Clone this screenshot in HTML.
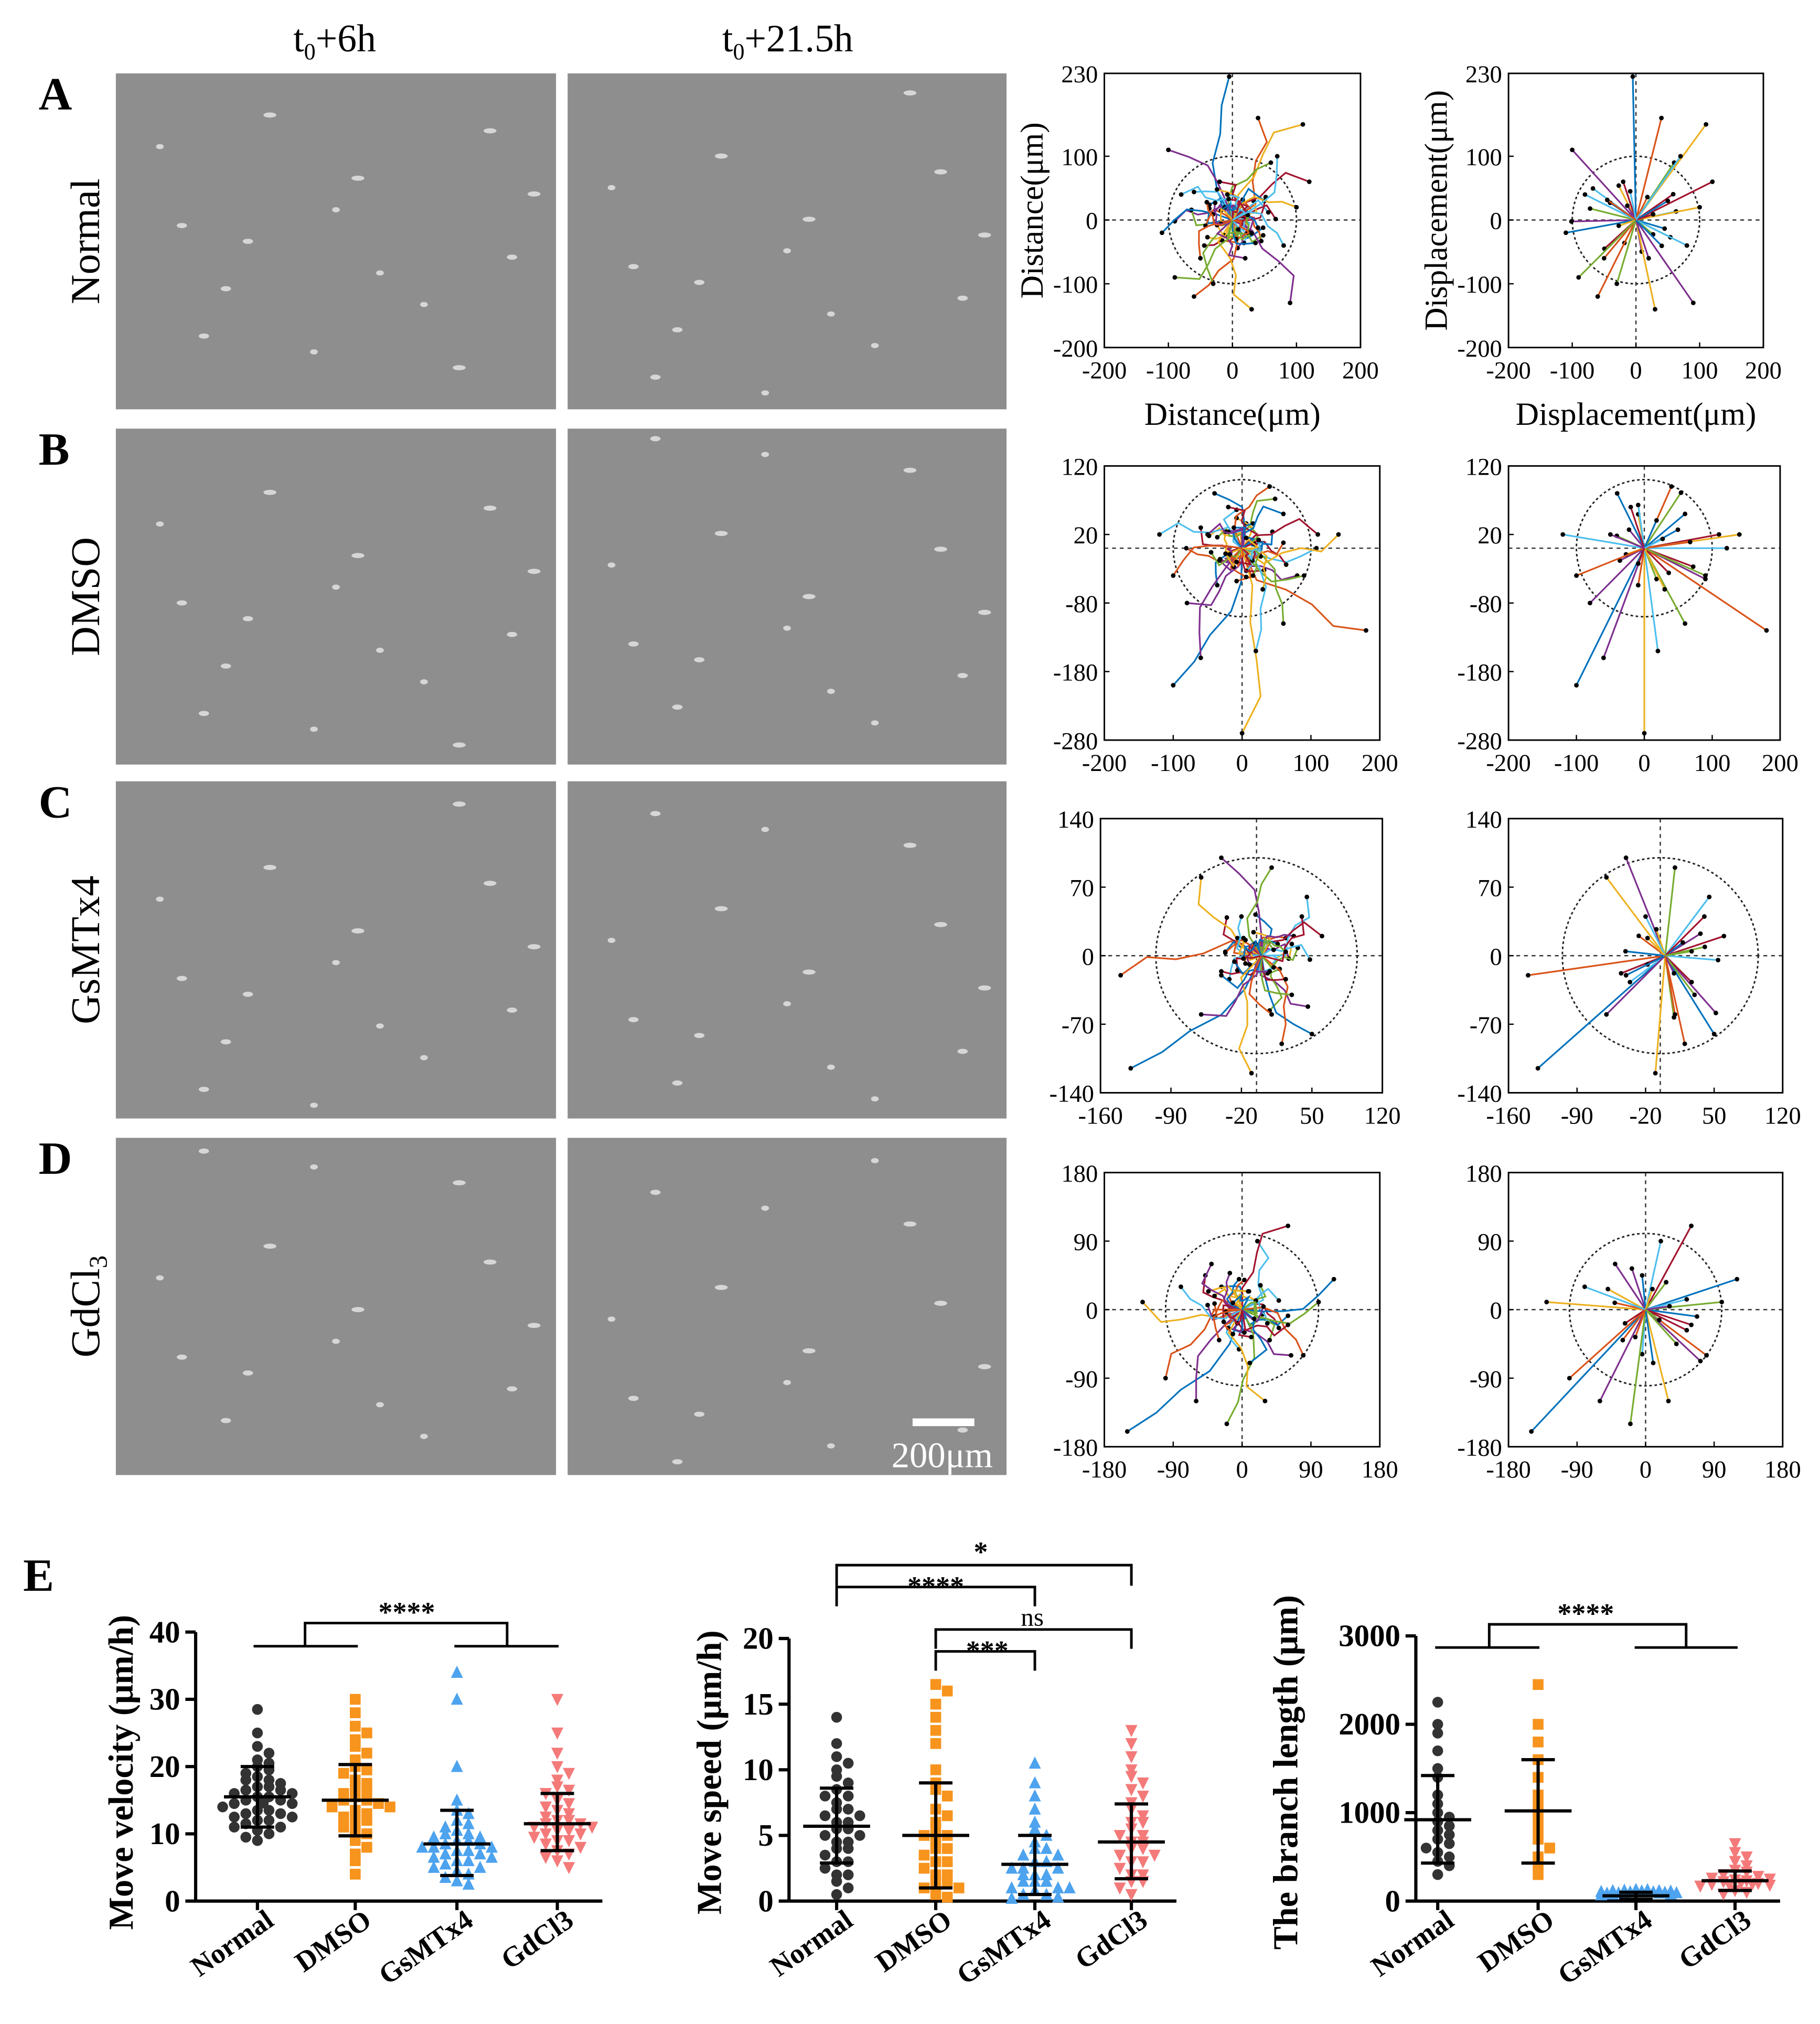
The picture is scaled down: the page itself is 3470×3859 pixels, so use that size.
<!DOCTYPE html>
<html><head><meta charset="utf-8"><style>body{margin:0;background:#fff}svg{display:block}</style></head>
<body>
<svg id="fig" width="3470" height="3859" viewBox="0 0 1414 1572.5" xmlns="http://www.w3.org/2000/svg" font-family="'Liberation Serif', serif">
<rect width="1414" height="1573" fill="#fff"/>
<g id="micro">
<text x="260" y="40" font-size="30" text-anchor="middle">t<tspan font-size="18" dy="6">0</tspan><tspan dy="-6">+6h</tspan></text>
<text x="612" y="40" font-size="30" text-anchor="middle">t<tspan font-size="18" dy="6">0</tspan><tspan dy="-6">+21.5h</tspan></text>
</g>
<g id="traj"></g>
<g id="charts"></g>
</svg>
<script>
const NS="http://www.w3.org/2000/svg";
function mk(p,tag,at,txt){const e=document.createElementNS(NS,tag);for(const k in at)e.setAttribute(k,at[k]);if(txt!==undefined)e.textContent=txt;p.appendChild(e);return e;}
const micro=document.getElementById('micro'),traj=document.getElementById('traj'),charts=document.getElementById('charts');
const rowsY=[[57,318],[333,594],[607,869],[884,1146]];
const rowNames=['Normal','DMSO','GsMTx4','GdCl'];
const letters=['A','B','C','D'];
const cellMarks=[[0.1,0.2],[0.3,0.5],[0.55,0.3],[0.7,0.7],[0.2,0.8],[0.85,0.15],[0.45,0.85],[0.9,0.55],[0.35,0.1],[0.6,0.6],[0.15,0.45],[0.78,0.9],[0.5,0.4],[0.25,0.65],[0.95,0.35]];
rowsY.forEach((r,i)=>{
 const l=mk(micro,'text',{x:30,y:r[0]+28,'font-size':36,'font-weight':'bold'},letters[i]);
 
 const t=mk(micro,'text',{transform:`translate(77,${(r[0]+r[1])/2}) rotate(-90)`,'font-size':32,'text-anchor':'middle'},rowNames[i]);
 if(i==3){mk(t,'tspan',{'font-size':20,dy:6},'3');}
 
 [[90,432],[441,782]].forEach((c,j)=>{
  const im=mk(micro,'rect',{x:c[0],y:r[0],width:c[1]-c[0],height:r[1]-r[0],fill:'#8e8e8e'});
  
  cellMarks.forEach((m,q)=>{const x=c[0]+m[0]*(c[1]-c[0]),y=r[0]+0.03*(r[1]-r[0])+((m[1]+0.13*j+0.07*i)%1)*0.94*(r[1]-r[0]);
   mk(micro,'ellipse',{cx:x,cy:y,rx:3+(q%3),ry:2,fill:'#e8e8e8',opacity:0.8});});
 });
});
const sb=mk(micro,'rect',{x:709,y:1102,width:48,height:6,fill:'#fff'});
const sbt=mk(micro,'text',{x:732,y:1140,'font-size':28,fill:'#fff','text-anchor':'middle'},'200μm');

const trajColors=['#0072BD','#D95319','#EDB120','#7E2F8E','#77AC30','#4DBEEE','#A2142F'];
const endA=[[-5,225],[40,160],[110,150],[-100,110],[60,90],[-80,40],[120,60],[-110,-20],[-60,-120],[30,-140],[90,-130],[-30,-100],[80,-40],[-20,60],[50,30],[-50,-60],[100,20],[20,-60],[-90,-90],[70,100]];
const endB=[[-100,-200],[180,-120],[0,-270],[-60,-160],[60,-110],[-120,20],[110,20],[-40,80],[40,90],[140,20],[-80,-80],[90,-40],[20,-150],[-20,60],[60,50],[-100,-40],[30,-60],[-50,20]];
const endC=[[-130,-115],[-140,-20],[-60,80],[-40,100],[10,90],[45,60],[60,20],[50,-80],[20,-90],[-10,-120],[-60,-60],[30,-40],[-20,40],[40,40],[-40,-20],[10,-60]];
const endD=[[-150,-160],[-100,-90],[-130,10],[-60,-120],[-20,-150],[20,90],[60,110],[120,40],[80,-60],[30,-120],[-40,60],[100,10],[-80,30],[60,-20],[10,-70],[-30,-40]];
const wig=[14,-18,10,-8];
const plots=[
 {y0:57,y1:270,xs:[[858,1057],[1172,1370]],xr:[-200,200],yr:[-200,230],xt:[-200,-100,0,100,200],yt:[-200,-100,0,100,230],end:endA,cx:0,xl:['Distance(μm)','Displacement(μm)']},
 {y0:362,y1:575,xs:[[858,1072],[1172,1383]],xr:[-200,200],yr:[-280,120],xt:[-200,-100,0,100,200],yt:[-280,-180,-80,20,120],end:endB,cx:0},
 {y0:636,y1:849,xs:[[855,1074],[1172,1385]],xr:[-160,120],yr:[-140,140],xt:[-160,-90,-20,50,120],yt:[-140,-70,0,70,140],end:endC,cx:-5},
 {y0:911,y1:1124,xs:[[858,1072],[1172,1385]],xr:[-180,180],yr:[-180,180],xt:[-180,-90,0,90,180],yt:[-180,-90,0,90,180],end:endD,cx:0}
];
plots.forEach((P,pi)=>{
 P.xs.forEach((xx,k)=>{
  const g=mk(traj,'g',{});
  const X=v=>xx[0]+(v-P.xr[0])/(P.xr[1]-P.xr[0])*(xx[1]-xx[0]);
  const Y=v=>P.y1-(v-P.yr[0])/(P.yr[1]-P.yr[0])*(P.y1-P.y0);
  mk(g,'line',{x1:X(P.cx),x2:X(P.cx),y1:P.y0,y2:P.y1,stroke:'#333','stroke-dasharray':'3,3','stroke-width':1});
  mk(g,'line',{x1:xx[0],x2:xx[1],y1:Y(0),y2:Y(0),stroke:'#333','stroke-dasharray':'3,3','stroke-width':1});
  mk(g,'ellipse',{cx:X(P.cx),cy:Y(0),rx:X(100)-X(0),ry:Y(0)-Y(100),fill:'none',stroke:'#222','stroke-dasharray':'2,2','stroke-width':1.2});
  P.end.forEach((e,i)=>{
   const col=trajColors[i%7];
   if(k==0){
    [[1,0],[0.4,1],[0.3,2]].forEach(([sc,sh])=>{
     const ex=sc==1?e[0]:-e[1]*sc*(sh==2?-1:1), ey=sc==1?e[1]:e[0]*sc*(sh==2?-1:1);
     let pts=[[X(0),Y(0)]];const dx=X(ex)-X(0),dy=Y(ey)-Y(0),L=Math.hypot(dx,dy)||1;
     [0.2,0.4,0.6,0.8].forEach((t,j)=>{const w=wig[(i+j+sh)%4]*(j%2?1:-1)*(sc==1?0.8:0.6);pts.push([X(0)+dx*t-dy/L*w,Y(0)+dy*t+dx/L*w]);});
     pts.push([X(ex),Y(ey)]);
     const pl=mk(g,'polyline',{points:pts.map(p=>p.join(',')).join(' '),fill:'none',stroke:trajColors[(i+sh*3)%7],'stroke-width':1.3});
     
     if(sc!=1)mk(g,'circle',{cx:X(ex),cy:Y(ey),r:1.8,fill:'#000'});
    });
   } else {
    const ln=mk(g,'line',{x1:X(0),y1:Y(0),x2:X(e[0]),y2:Y(e[1]),stroke:col,'stroke-width':1.3});
    
    const l2=mk(g,'line',{x1:X(0),y1:Y(0),x2:X(-e[1]*0.45),y2:Y(e[0]*0.45),stroke:trajColors[(i+3)%7],'stroke-width':1.3});
    
    mk(g,'circle',{cx:X(-e[1]*0.45),cy:Y(e[0]*0.45),r:1.8,fill:'#000'});
   }
   mk(g,'circle',{cx:X(e[0]),cy:Y(e[1]),r:1.8,fill:'#000'});
  });
  mk(g,'rect',{x:xx[0],y:P.y0,width:xx[1]-xx[0],height:P.y1-P.y0,fill:'none',stroke:'#000','stroke-width':1.2});
  P.xt.forEach(v=>{mk(g,'line',{x1:X(v),x2:X(v),y1:P.y1,y2:P.y1-4,stroke:'#000'});mk(g,'text',{x:X(v),y:P.y1+24,'font-size':19,'text-anchor':'middle'},v);});
  P.yt.forEach(v=>{mk(g,'line',{x1:xx[0],x2:xx[0]+4,y1:Y(v),y2:Y(v),stroke:'#000'});mk(g,'text',{x:xx[0]-5,y:Y(v)+7,'font-size':19,'text-anchor':'end'},v);});
  if(P.xl){
   const xl=mk(g,'text',{x:(xx[0]+xx[1])/2,y:P.y1+60,'font-size':25,'text-anchor':'middle'},P.xl[k]);
   const yl=mk(g,'text',{transform:`translate(${xx[0]-48},${(P.y0+P.y1)/2}) rotate(-90)`,'font-size':25,'text-anchor':'middle'},P.xl[k]);
  }
 });
});

const categories=['Normal','DMSO','GsMTx4','GdCl3'];
const vel_normal=[28.5,25,23,22,21,20.5,20,19.5,19,18.5,18,18,17.5,17,17,16.5,16.5,16,16,15.5,15.5,15,15,14.5,14.5,14,14,13.5,13.5,13,13,12.5,12.5,12,12,11.5,11,11,10.5,10,9.5,9];
const vel_dmso=[30,28,26,25,24,23,22,21,20,19.5,19,18,17.5,17,16.5,16,15.5,15,15,14.5,14,14,13.5,13,12.5,12,12,11,10.5,10,9,8,7,6,4];
const vel_gsm=[34,30,20,15,13.5,13,12,11.5,11,10.5,10,10,9.5,9.5,9,9,8.5,8.5,8,8,8,7.5,7.5,7,7,6.5,6.5,6,6,5.5,5,5,4.5,4,3.5,3,2.5];
const vel_gd=[30,25,22,20,19,18,17,16.5,16,15,14.5,14,13.5,13,12.5,12,12,11.5,11.5,11,11,10.5,10.5,10,10,9.5,9,9,8.5,8,7.5,7,6.5,6,5];
const vel_mean=[15.5,15,8.5,11.5], vel_lo=[11,9.7,3.8,7.5], vel_hi=[20,20.3,13.5,16];
const spd_normal=[14,12,11,10.5,10,9.5,9,8.5,8,8,7.5,7,7,6.5,6.5,6,6,5.5,5.5,5,5,4.5,4.5,4,4,3.5,3,3,2.5,2,2,1.5,1,0.5];
const spd_dmso=[16.5,16,15,14,13,12,10,9,8.5,8,7,6.5,6,5.5,5,5,4.5,4,4,3.5,3,3,2.5,2,2,1.5,1.5,1,1,0.5,0.3];
const spd_gsm=[10.5,9,8,7,6,5.5,5,4.5,4,4,3.5,3.5,3,3,2.5,2.5,2.5,2,2,2,1.5,1.5,1.5,1,1,1,0.8,0.5,0.5,0.3,0.2];
const spd_gd=[13,12,11,10,9.5,9,8.5,8,7.5,7,6.5,6,6,5.5,5,5,4.5,4.5,4,4,3.5,3.5,3,3,2.5,2,2,1.5,1.5,1,0.5];
const spd_mean=[5.7,5,2.8,4.5], spd_lo=[2.9,1,0.5,1.7], spd_hi=[8.6,9,5,7.4];
const br_normal=[2250,2000,1900,1700,1500,1400,1200,1100,1000,950,900,850,800,750,700,650,600,550,500,450,400,300];
const br_dmso=[2450,2000,1800,1600,1400,1200,1100,1000,900,800,700,600,500,400,300];
const br_gsm=[130,110,100,90,80,80,70,70,60,60,55,50,50,45,40,40,35,30,30,25,20];
const br_gd=[650,550,500,450,400,350,330,300,280,260,250,240,230,220,200,190,180,170,160,150,140,120,100,80];
const br_mean=[920,1020,60,230], br_lo=[430,430,20,120], br_hi=[1420,1600,100,340];
const vel_ticks=[0,10,20,30,40], spd_ticks=[0,5,10,15,20], br_ticks=[0,1000,2000,3000];

const grpColors=['#333333','#f7941d','#4da3ee','#f47a7a'];
const E=mk(charts,'text',{x:18,y:1236,'font-size':36,'font-weight':'bold'},'E');

function marker(g,k,x,y,c){
 let e;const s=4.2;
 if(k==0)e=mk(g,'circle',{cx:x,cy:y,r:s,fill:c});
 else if(k==1)e=mk(g,'rect',{x:x-s,y:y-s,width:2*s,height:2*s,fill:c});
 else if(k==2)e=mk(g,'polygon',{points:`${x},${y-s-1} ${x-s-0.5},${y+s} ${x+s+0.5},${y+s}`,fill:c});
 else e=mk(g,'polygon',{points:`${x},${y+s+1} ${x-s-0.5},${y-s} ${x+s+0.5},${y-s}`,fill:c});
 
}
function chart(o){
 const g=mk(charts,'g',{});
 const Y=v=>o.yb-(v-0)/(o.ymax)*(o.yb-o.yt);
 mk(g,'line',{x1:o.ax,x2:o.ax,y1:o.yt,y2:o.yb,stroke:'#000','stroke-width':2.5});
 mk(g,'line',{x1:o.ax,x2:o.cx[3]+35,y1:o.yb,y2:o.yb,stroke:'#000','stroke-width':2.5});
 o.ticks.forEach(v=>{mk(g,'line',{x1:o.ax-8,x2:o.ax,y1:Y(v),y2:Y(v),stroke:'#000','stroke-width':2.5});
  mk(g,'text',{x:o.ax-12,y:Y(v)+8,'font-size':24,'font-weight':'bold','text-anchor':'end'},v);});
 const yl=mk(g,'text',{transform:`translate(${o.ylx},${o.yb-100}) rotate(-90)`,'font-size':27,'font-weight':'bold','text-anchor':'middle'},o.ylabel);
 
 o.data.forEach((arr,k)=>{
  const bins={};
  arr.forEach(v=>{const y=Y(v);const b=Math.round(y/8);bins[b]=(bins[b]||0)+1;const n0=bins[b]-1;
   const row=Math.floor(n0/7),n=n0%7;
   const off=(n%2?1:-1)*Math.ceil(n/2)*9+(row%2?4.5:0);marker(g,k,o.cx[k]+off,y-row*3,grpColors[k]);});
  const mx=o.cx[k];
  mk(g,'line',{x1:mx-26,x2:mx+26,y1:Y(o.mean[k]),y2:Y(o.mean[k]),stroke:'#000','stroke-width':2.5});
  mk(g,'line',{x1:mx,x2:mx,y1:Y(o.lo[k]),y2:Y(o.hi[k]),stroke:'#000','stroke-width':2.5});
  mk(g,'line',{x1:mx-13,x2:mx+13,y1:Y(o.lo[k]),y2:Y(o.lo[k]),stroke:'#000','stroke-width':2.5});
  mk(g,'line',{x1:mx-13,x2:mx+13,y1:Y(o.hi[k]),y2:Y(o.hi[k]),stroke:'#000','stroke-width':2.5});
  mk(g,'line',{x1:mx,x2:mx,y1:o.yb,y2:o.yb+7,stroke:'#000','stroke-width':2.5});
  const lab=mk(g,'text',{transform:`translate(${mx+14},${o.yb+18}) rotate(-35)`,'font-size':22,'font-weight':'bold','text-anchor':'end'},categories[k]);
  
 });
 o.brackets(g);
}
function L(g,pts){mk(g,'polyline',{points:pts.map(p=>p.join(',')).join(' '),fill:'none',stroke:'#000','stroke-width':2});}
function T(g,x,y,s){const t=mk(g,'text',{x:x,y:y,'font-size':22,'font-weight':'bold','text-anchor':'middle'},s);}
chart({name:'velocity-chart',ax:152,yt:1268,yb:1477,ymax:40,ticks:vel_ticks,cx:[200,276,355,433],ylx:103,ylabel:'Move velocity (μm/h)',
 data:[vel_normal,vel_dmso,vel_gsm,vel_gd],mean:vel_mean,lo:vel_lo,hi:vel_hi,
 brackets:g=>{L(g,[[197,1279],[278,1279]]);L(g,[[237,1279],[237,1261],[394,1261],[394,1279]]);L(g,[[353,1279],[434,1279]]);T(g,316,1260,'****');}});
chart({name:'speed-chart',ax:613,yt:1273,yb:1477,ymax:20,ticks:spd_ticks,cx:[650,727,804,879],ylx:560,ylabel:'Move speed (μm/h)',
 data:[spd_normal,spd_dmso,spd_gsm,spd_gd],mean:spd_mean,lo:spd_lo,hi:spd_hi,
 brackets:g=>{L(g,[[650,1232],[650,1216],[879,1216],[879,1232]]);T(g,762,1213,'*');
  L(g,[[650,1248],[650,1233],[804,1233],[804,1248]]);T(g,727,1240,'****');
  L(g,[[727,1281],[727,1266],[879,1266],[879,1281]]);mk(g,'text',{x:802,y:1263,'font-size':20,'text-anchor':'middle'},'ns');
  L(g,[[727,1298],[727,1283],[804,1283],[804,1298]]);T(g,767,1290,'***');}});
chart({name:'branch-length-chart',ax:1100,yt:1271,yb:1477,ymax:3000,ticks:br_ticks,cx:[1117,1195,1271,1348],ylx:1008,ylabel:'The branch length (μm)',
 data:[br_normal,br_dmso,br_gsm,br_gd],mean:br_mean,lo:br_lo,hi:br_hi,
 brackets:g=>{L(g,[[1115,1280],[1196,1280]]);L(g,[[1157,1280],[1157,1262],[1310,1262],[1310,1280]]);L(g,[[1270,1280],[1350,1280]]);T(g,1232,1261,'****');}});
</script>
</body></html>
